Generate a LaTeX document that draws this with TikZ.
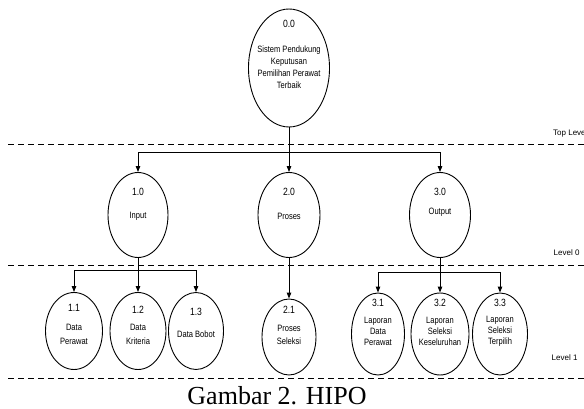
\documentclass[tikz,border=0pt]{standalone}
\usepackage{fontspec}
\setmainfont{Liberation Sans}
\newfontfamily\narrowfont[FakeStretch=0.82]{Liberation Sans}
\newfontfamily\capfont{Liberation Serif}
\usetikzlibrary{shapes.geometric,arrows.meta}

\begin{document}
\begin{tikzpicture}[x=1pt,y=-1pt,
		proc/.style={draw,ellipse,line width=0.9pt,inner sep=0pt},
		num/.style={font=\narrowfont\fontsize{10.5}{12}\selectfont},
		txt/.style={font=\narrowfont\fontsize{9.2}{12}\selectfont,align=center},
		arr/.style={line width=0.9pt,-{Triangle[length=6pt,width=4.5pt]}},
		levelline/.style={line width=1pt,dash pattern=on 6pt off 4pt},
		lvl/.style={font=\fontsize{8}{9}\selectfont,anchor=east}]
		\useasboundingbox (0,0) rectangle (584,409);
		% level separators
		\draw[levelline] (8,145) -- (590,145);
		\draw[levelline] (8,265) -- (590,265);
		\draw[levelline] (8,378) -- (590,378);
		\node[lvl] (ltop) at (591,133) {Top Level};
		\node[lvl] (l0) at (583,253) {Level 0};
		\node[lvl] (l1) at (581,358) {Level 1};
		% top level
		\node[proc,minimum width=81pt,minimum height=118pt] (p00) at (289,68) {};
		\node[num] (n00) at (289,24) {0.0};
		\node[txt] (t00) at (289,67) {Sistem Pendukung\\Keputusan\\Pemilihan Perawat\\Terbaik};
		% level 0
		\node[proc,minimum width=60pt,minimum height=85pt] (p10) at (138,215) {};
		\node[proc,minimum width=62pt,minimum height=85pt] (p20) at (289,215) {};
		\node[proc,minimum width=61pt,minimum height=85pt] (p30) at (440,215) {};
		\node[num] (n10) at (138,192) {1.0};
		\node[num] (n20) at (289,192) {2.0};
		\node[num] (n30) at (440,192) {3.0};
		\node[txt] (t10) at (138,216) {Input};
		\node[txt] (t20) at (289,216) {Proses};
		\node[txt] (t30) at (440,212) {Output};
		% level 1
		\node[proc,minimum width=57pt,minimum height=77pt] (p11) at (74,331) {};
		\node[proc,minimum width=56pt,minimum height=77pt] (p12) at (138,331) {};
		\node[proc,minimum width=55pt,minimum height=77pt] (p13) at (196,331) {};
		\node[proc,minimum width=54pt,minimum height=76pt] (p21) at (289,337) {};
		\node[proc,minimum width=53pt,minimum height=82pt] (p31) at (378,334) {};
		\node[proc,minimum width=58pt,minimum height=82pt] (p32) at (440,334) {};
		\node[proc,minimum width=55pt,minimum height=82pt] (p33) at (500,334) {};
		\node[num] (n11) at (74,308) {1.1};
		\node[num] (n12) at (138,310) {1.2};
		\node[num] (n13) at (196,312) {1.3};
		\node[num] (n21) at (289,310) {2.1};
		\node[num] (n31) at (378,303) {3.1};
		\node[num] (n32) at (440,303) {3.2};
		\node[num] (n33) at (500,303) {3.3};
		\node[txt,font=\narrowfont\fontsize{9.2}{14}\selectfont] (t11) at (74,334) {Data\\Perawat};
		\node[txt,font=\narrowfont\fontsize{9.2}{14}\selectfont] (t12) at (138,334) {Data\\Kriteria};
		\node[txt] (t13) at (196,334) {Data Bobot};
		\node[txt,font=\narrowfont\fontsize{9.2}{13}\selectfont] (t21) at (289,335) {Proses\\Seleksi};
		\node[txt,font=\narrowfont\fontsize{9.2}{11}\selectfont] (t31) at (378,331) {Laporan\\Data\\Perawat};
		\node[txt,font=\narrowfont\fontsize{9.2}{11}\selectfont] (t32) at (440,331) {Laporan\\Seleksi\\Keseluruhan};
		\node[txt,font=\narrowfont\fontsize{9.2}{11}\selectfont] (t33) at (500,331) {Laporan\\Seleksi\\Terpilih};
		% connectors
		\coordinate (bus0) at (289,152);
		\coordinate (bus1) at (138,270);
		\coordinate (bus3) at (440,272);
		\draw[arr] (p00) -- (p20);
		\draw[arr] (bus0) -| (p10);
		\draw[arr] (bus0) -| (p30);
		\draw[arr] (p10) -- (p12);
		\draw[arr] (bus1) -| (p11);
		\draw[arr] (bus1) -| (p13);
		\draw[arr] (p20) -- (p21);
		\draw[arr] (p30) -- (p32);
		\draw[arr] (bus3) -| (p31);
		\draw[arr] (bus3) -| (p33);
		% caption
		\node[font=\capfont\fontsize{26}{30}\selectfont] (cap) at (277,396) {Gambar 2. HIPO};
	\end{tikzpicture}
\end{document}
